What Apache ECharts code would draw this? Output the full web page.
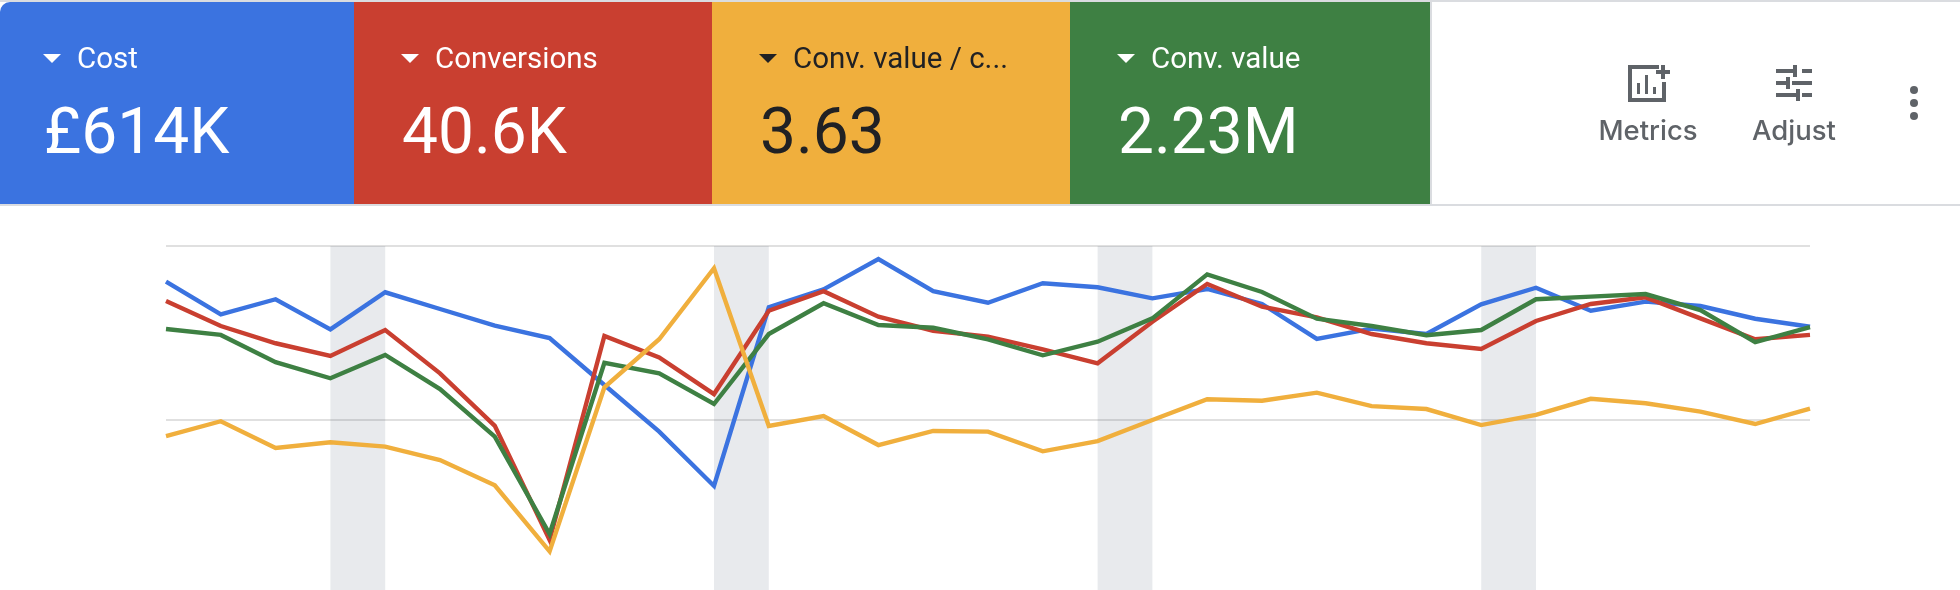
<!DOCTYPE html>
<html><head><meta charset="utf-8">
<style>html,body{margin:0;padding:0;background:#fff}#c{width:1960px;height:590px}</style>
<script src="https://cdn.jsdelivr.net/npm/echarts@6/dist/echarts.min.js"></script>
</head><body><div id="c"></div>
<script>
const categories = ['D1','D2','D3','D4','D5','D6','D7','D8','D9','D10','D11','D12','D13','D14','D15','D16','D17','D18','D19','D20','D21','D22','D23','D24','D25','D26','D27','D28','D29','D30','D31'];
const cost = [1.795,1.607,1.694,1.521,1.734,1.638,1.542,1.471,1.201,0.933,0.621,1.648,1.751,1.925,1.741,1.674,1.786,1.763,1.699,1.753,1.667,1.466,1.525,1.494,1.665,1.760,1.628,1.680,1.655,1.582,1.536];
const conversions = [1.684,1.540,1.441,1.368,1.517,1.268,0.966,0.310,1.483,1.360,1.149,1.628,1.740,1.594,1.513,1.479,1.406,1.326,1.565,1.782,1.651,1.590,1.494,1.441,1.408,1.569,1.667,1.705,1.584,1.464,1.489];
const convValue = [1.523,1.489,1.332,1.240,1.374,1.178,0.904,0.345,1.329,1.268,1.092,1.494,1.671,1.546,1.530,1.464,1.372,1.450,1.584,1.837,1.736,1.582,1.540,1.487,1.517,1.694,1.709,1.724,1.632,1.448,1.534];
const convValuePerCost = [0.908,0.993,0.839,0.872,0.847,0.770,0.625,0.245,1.188,1.464,1.872,0.966,1.023,0.856,0.937,0.933,0.820,0.879,1.000,1.119,1.111,1.157,1.080,1.063,0.971,1.029,1.122,1.096,1.048,0.977,1.065];
const weekendBands = [['D4','D5'],['D11','D12'],['D18','D19'],['D25','D26']];
const tileLabels = ['Cost','Conversions','Conv. value / c...','Conv. value'];
const tileValues = ['£614K','40.6K','3.63','2.23M'];
const BLUE='#3b73e0',RED='#c93f30',YELLOW='#f0af3d',GREEN='#3e8043',GREY='#5f6368',DARK='#202124',RULE='#dadce0';
const tileColors=[BLUE,RED,YELLOW,GREEN];
const tileInk=['#fff','#fff',DARK,'#fff'];
const tileX=[0,354,712,1070];
const tileW=[354,358,358,360];
const tileInset=[0,4,4,4];

const g=[];
g.push({type:'rect',shape:{x:0,y:0,width:1960,height:2},style:{fill:RULE},silent:true});
g.push({type:'rect',shape:{x:0,y:204,width:1960,height:2},style:{fill:RULE},silent:true});
g.push({type:'rect',shape:{x:1430,y:2,width:2,height:202},style:{fill:RULE},silent:true});
tileLabels.forEach((t,i)=>{
  const x=tileX[i]+tileInset[i];
  g.push({type:'rect',shape:{x:tileX[i],y:2,width:tileW[i],height:202,r:i===0?[10,0,0,0]:0},style:{fill:tileColors[i]},silent:true});
  g.push({type:'polygon',shape:{points:[[x+43,54],[x+61,54],[x+52,63]]},style:{fill:tileInk[i]},silent:true});
  g.push({type:'text',x:x+77,y:61,style:{text:t,fill:tileInk[i],font:'400 29.5px Roboto',textVerticalAlign:'middle',textAlign:'left'},silent:true});
  g.push({type:'text',x:x+44,y:137,style:{text:tileValues[i],fill:tileInk[i],font:'400 64px Roboto',textVerticalAlign:'middle',textAlign:'left'},silent:true});
});
const iconStroke={stroke:GREY,lineWidth:4,fill:null};
g.push({type:'polyline',shape:{points:[[1659,67],[1630,67],[1630,100],[1664,100],[1664,82]]},style:iconStroke,silent:true});
g.push({type:'rect',shape:{x:1637,y:83,width:3,height:11},style:{fill:GREY},silent:true});
g.push({type:'rect',shape:{x:1645,y:75,width:3,height:19},style:{fill:GREY},silent:true});
g.push({type:'rect',shape:{x:1653,y:87,width:3,height:7},style:{fill:GREY},silent:true});
g.push({type:'rect',shape:{x:1656,y:70,width:14,height:4},style:{fill:GREY},silent:true});
g.push({type:'rect',shape:{x:1661,y:65,width:4,height:14},style:{fill:GREY},silent:true});
[[1776,69,20,4],[1802,69,10,4],[1793,65,4,12],[1776,81,10,4],[1792,81,20,4],[1786,77,4,12],[1776,93,20,4],[1802,93,10,4],[1796,89,4,12]].forEach(r=>{
  g.push({type:'rect',shape:{x:r[0],y:r[1],width:r[2],height:r[3]},style:{fill:GREY},silent:true});
});
g.push({type:'text',x:1648,y:132,style:{text:'Metrics',fill:GREY,font:'500 27.5px Inter',textAlign:'center',textVerticalAlign:'middle'},silent:true});
g.push({type:'text',x:1794,y:132,style:{text:'Adjust',fill:GREY,font:'500 27.5px Inter',textAlign:'center',textVerticalAlign:'middle'},silent:true});
[90,103,116].forEach(y=>g.push({type:'circle',shape:{cx:1914,cy:y,r:4},style:{fill:GREY},silent:true}));

const mk=(name,data,color,extra)=>Object.assign({name,type:'line',data,symbol:'none',smooth:false,lineStyle:{color,width:4.4,join:'miter'},itemStyle:{color},silent:true,animation:false},extra||{});
const chart=echarts.init(document.getElementById('c'),null,{renderer:'canvas',width:1960,height:590});
chart.setOption({
  animation:false,
  backgroundColor:'#fff',
  grid:{left:166,right:150,top:246,height:348,outerBoundsMode:'none',containLabel:false},
  xAxis:{type:'category',data:categories,boundaryGap:false,axisLine:{show:false},axisTick:{show:false},axisLabel:{show:false},splitLine:{show:false}},
  yAxis:{type:'value',min:0,max:2,interval:1,axisLine:{show:false},axisTick:{show:false},axisLabel:{show:false},splitLine:{show:true,lineStyle:{color:'#e0e0e0',width:2}}},
  series:[
    mk('Cost',cost,BLUE,{markArea:{silent:true,itemStyle:{color:'rgba(63,80,105,0.12)'},data:weekendBands.map(b=>[{xAxis:b[0]},{xAxis:b[1]}])}}),
    mk('Conversions',conversions,RED),
    mk('Conv. value',convValue,GREEN),
    mk('Conv. value / cost',convValuePerCost,YELLOW)
  ],
  graphic:{elements:g}
});
</script></body></html>
